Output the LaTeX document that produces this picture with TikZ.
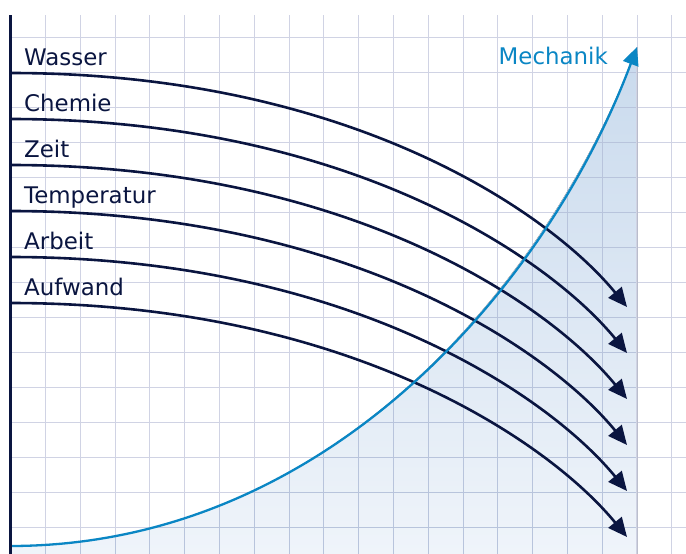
\documentclass[tikz,border=0pt]{standalone}
\usepackage{fontspec}
\setmainfont{DejaVu Sans}
\usetikzlibrary{arrows.meta}
\definecolor{NavyDark}{HTML}{0A1540}
\definecolor{CurveBlue}{HTML}{0A86C4}
\definecolor{GridGray}{HTML}{D0D3E4}
\definecolor{GridShade}{HTML}{B8C4DC}
\definecolor{ShadeTop}{HTML}{C9DAED}
\definecolor{ShadeBottom}{HTML}{EFF4FA}

\begin{document}
\begin{tikzpicture}[x=1pt,y=-1pt,
    gridline/.style={GridGray, line width=1pt},
    flow/.style={-{Triangle[length=19pt,width=17pt]}, NavyDark, line width=2.6pt},
    growth/.style={-{Triangle[length=18pt,width=16pt]}, CurveBlue, line width=2.3pt},
    itemtext/.style={anchor=base west, inner sep=0pt, font=\fontsize{22.9}{26}\selectfont, text=NavyDark},
  ]
  \useasboundingbox (0,0) rectangle (686,554);
  \foreach \k in {1,...,19} \draw[gridline] ({10.7+34.8*\k},15) -- ({10.7+34.8*\k},554);
  \foreach \k in {0,...,14} \draw[gridline] (10,{37.3+35*\k}) -- (686,{37.3+35*\k});

  \coordinate (m0) at (10,546);
  \coordinate (m1) at (637,47);
  \fill[top color=ShadeTop, bottom color=ShadeBottom]
    (10,554) -- (m0) .. controls (330,546) and (550,280) .. (m1) -- (637,554) -- cycle;
  \begin{scope}
    \clip (10,554) -- (m0) .. controls (330,546) and (550,280) .. (m1) -- (637,554) -- cycle;
    \foreach \k in {1,...,17} \draw[gridline,GridShade] ({10.7+34.8*\k},15) -- ({10.7+34.8*\k},554);
    \foreach \k in {0,...,14} \draw[gridline,GridShade] (10,{37.3+35*\k}) -- (636,{37.3+35*\k});
  \end{scope}
  \draw[gridline] (636.3,47) -- (636.3,554);

  \foreach \name [count=\i] in {Wasser,Chemie,Zeit,Temperatur,Arbeit,Aufwand} {
    \node[itemtext] (l\i) at (24,{65+46*(\i-1)}) {\name};
    \coordinate (s\i) at (10,{73+46*(\i-1)});
    \coordinate (e\i) at (627,{307+46*(\i-1)});
    \draw[flow] (s\i) .. controls +(340,0) and +(-77,-94) .. (e\i);
  }

  \draw[growth] (m0) .. controls (330,546) and (550,280) .. (m1);
  \node[itemtext, anchor=base east, text=CurveBlue] (mech) at (608,64) {Mechanik};

  \draw[NavyDark, line width=3pt] (10.5,15) -- (10.5,554);
\end{tikzpicture}
\end{document}
